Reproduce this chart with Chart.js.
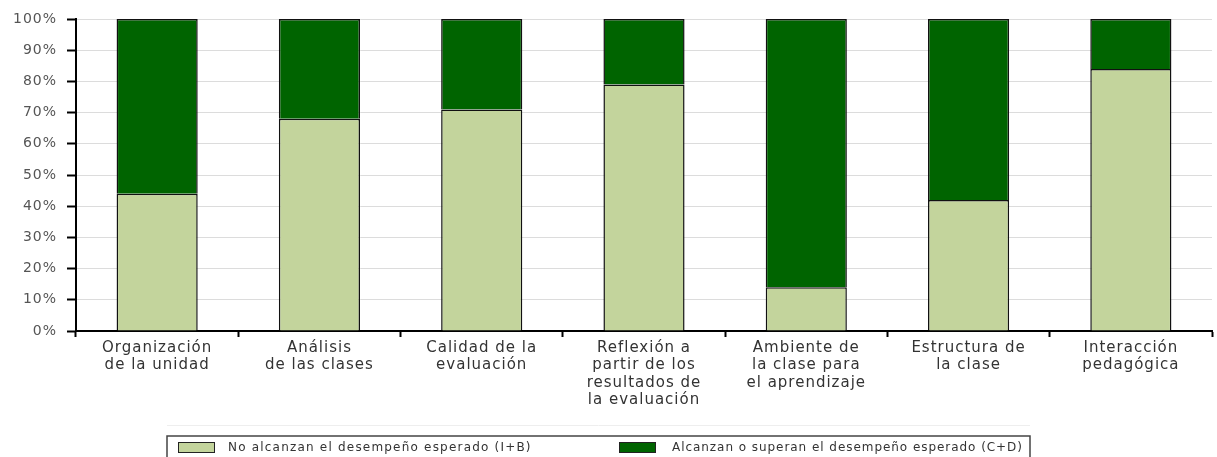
<!DOCTYPE html>
<html>
<head>
<meta charset="utf-8">
<script src="https://cdn.jsdelivr.net/npm/chart.js@4/dist/chart.umd.min.js"></script>
<style>
html,body{margin:0;padding:0;background:#fff;}
#wrap{width:1217px;height:457px;position:relative;}
</style>
</head>
<body>
<div id="wrap"><canvas id="c" width="1217" height="457"></canvas></div>
<script>
const categories = [
  ['Organización','de la unidad'],
  ['Análisis','de las clases'],
  ['Calidad de la','evaluación'],
  ['Reflexión a','partir de los','resultados de','la evaluación'],
  ['Ambiente de','la clase para','el aprendizaje'],
  ['Estructura de','la clase'],
  ['Interacción','pedagógica']
];
const seriesNames = ['No alcanzan el desempeño esperado (I+B)', 'Alcanzan o superan el desempeño esperado (C+D)'];
const noAlcanzan = [44, 68, 71, 79, 14, 42, 84];
const alcanzan   = [56, 32, 29, 21, 86, 58, 16];
const yTicks = [0,10,20,30,40,50,60,70,80,90,100];

const LIGHT = '#c3d49c';
const DARK = '#006400';

const spacing = {
  id: 'spacing',
  beforeInit(chart) { chart.ctx.letterSpacing = '1px'; },
  beforeLayout(chart) { chart.ctx.letterSpacing = '1px'; },
  beforeDraw(chart) { chart.ctx.letterSpacing = '1px'; }
};

const boxLegend = {
  id: 'boxLegend',
  afterDraw(chart) {
    const ctx = chart.ctx;
    ctx.save();
    ctx.strokeStyle = '#eeeeee';
    ctx.lineWidth = 1;
    ctx.beginPath(); ctx.moveTo(167, 425.5); ctx.lineTo(1030, 425.5); ctx.stroke();
    ctx.strokeStyle = '#444';
    ctx.lineWidth = 1.5;
    ctx.strokeRect(167, 436, 863, 40);
    const items = chart.data.datasets;
    const pos = [{sx:178, tx:228, ls:'1.2px'}, {sx:619, tx:672, ls:'0.95px'}];
    ctx.font = '12px "DejaVu Sans"';
    ctx.textBaseline = 'middle';
    items.forEach((ds, i) => {
      const p = pos[i];
      ctx.fillStyle = ds.backgroundColor;
      ctx.fillRect(p.sx, 442, 37, 11);
      ctx.strokeStyle = '#222';
      ctx.lineWidth = 1;
      ctx.strokeRect(p.sx + 0.5, 442.5, 36, 10);
      ctx.fillStyle = '#333';
      ctx.letterSpacing = p.ls;
      ctx.fillText(ds.label, p.tx, 448);
    });
    ctx.restore();
  }
};

new Chart(document.getElementById('c'), {
  type: 'bar',
  data: {
    labels: categories,
    datasets: [
      {label: seriesNames[0], data: noAlcanzan, backgroundColor: LIGHT, borderColor: '#111', borderWidth: 1.5},
      {label: seriesNames[1], data: alcanzan, backgroundColor: DARK, borderColor: '#111', borderWidth: 1.5}
    ]
  },
  options: {
    responsive: false,
    animation: false,
    layout: {padding: {top: 19, right: 5, bottom: 30, left: 0}},
    plugins: {legend: {display: false}, tooltip: {enabled: false}},
    datasets: {bar: {barPercentage: 0.5, categoryPercentage: 1.0}},
    scales: {
      x: {
        stacked: true,
        offset: true,
        border: {color: '#000', width: 2},
        grid: {display: true, offset: true, drawOnChartArea: false, tickColor: '#000', tickLength: 6, tickWidth: 2},
        ticks: {color: '#333', font: {family: 'DejaVu Sans', size: 15, lineHeight: 1.17}, padding: 2, maxRotation: 0, autoSkip: false},
        afterFit(s) { s.height = 96; }
      },
      y: {
        stacked: true,
        min: 0, max: 100,
        afterBuildTicks(s) { s.ticks = yTicks.map(v => ({value: v})); },
        border: {color: '#000', width: 2},
        grid: {color: '#dcdcdc', lineWidth: 1, tickColor: '#000', tickLength: 9, tickWidth: 2},
        ticks: {color: '#555', font: {family: 'DejaVu Sans', size: 14}, padding: 10, callback: v => v + '%'},
        afterFit(s) { s.width = 76; }
      }
    }
  },
  plugins: [spacing, boxLegend]
});
</script>
</body>
</html>
